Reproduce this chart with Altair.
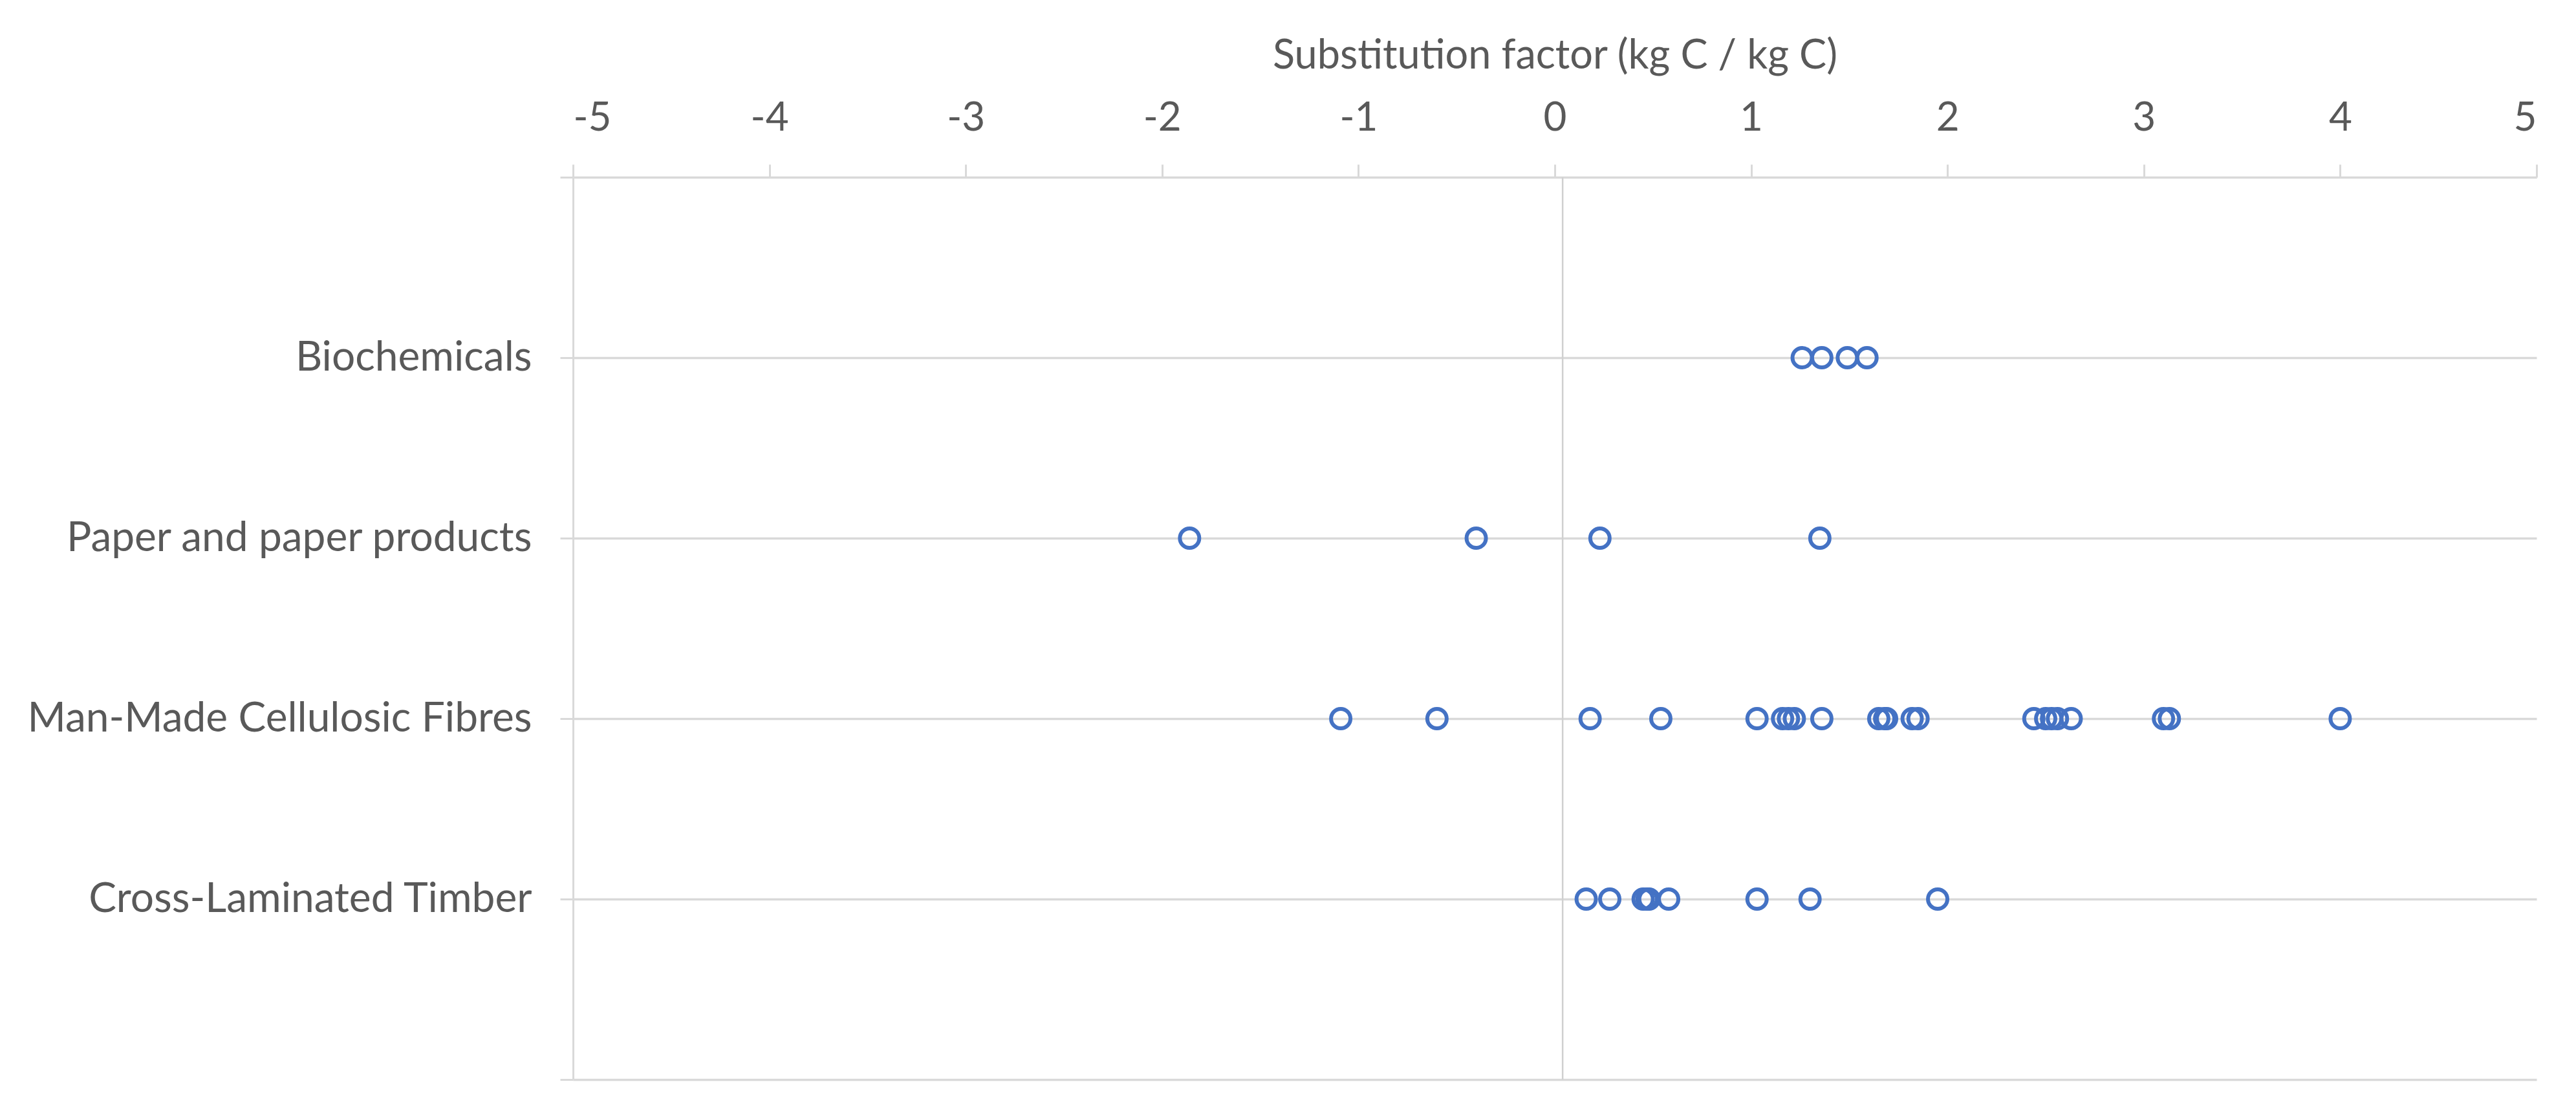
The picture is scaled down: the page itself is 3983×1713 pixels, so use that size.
import altair as alt
import pandas as pd

categories = ["Biochemicals", "Paper and paper products",
              "Man-Made Cellulosic Fibres", "Cross-Laminated Timber"]
category_pos = [4, 3, 2, 1]

biochemicals = [1.26, 1.36, 1.49, 1.59]
paper = [-1.86, -0.40, 0.23, 1.35]
mmcf = [-1.09, -0.60, 0.18, 0.54, 1.03, 1.16, 1.19, 1.22, 1.36, 1.65, 1.68,
        1.69, 1.82, 1.85, 2.44, 2.50, 2.53, 2.56, 2.63, 3.10, 3.13, 4.00]
clt = [0.16, 0.28, 0.45, 0.47, 0.48, 0.58, 1.03, 1.30, 1.95]

x_ticks = [-5, -4, -3, -2, -1, 0, 1, 2, 3, 4, 5]
y_ticks = [0, 1, 2, 3, 4, 5]
zero_line_x = [0.04]
zero_line_y = [0, 5]

rows = []
for cat, pos, vals in zip(categories, category_pos, [biochemicals, paper, mmcf, clt]):
    for v in vals:
        rows.append({"category": cat, "pos": pos, "value": v})
df = pd.DataFrame(rows)

zero_df = pd.DataFrame({"value": zero_line_x, "pos": [zero_line_y[0]], "pos2": [zero_line_y[1]]})

label_expr = " : ".join(f"datum.value == {p} ? '{c}'" for c, p in zip(categories, category_pos)) + " : ''"

FONT = "Lato"
GRAY = "#D9D9D9"
TXT = "#595959"

x = alt.X("value:Q",
          scale=alt.Scale(domain=[-5, 5], nice=False, zero=False),
          axis=alt.Axis(orient="top", values=x_ticks, labelExpr="datum.value + ''",
                        grid=False,
                        title="Substitution factor (kg C / kg C)",
                        titleFont=FONT, titleFontSize=63, titleFontWeight="normal",
                        titleColor=TXT, titlePadding=33,
                        labelFont=FONT, labelFontSize=62, labelColor=TXT,
                        labelPadding=40, tickSize=20, tickColor=GRAY, tickWidth=3,
                        domainColor=GRAY, domainWidth=3))
y = alt.Y("pos:Q",
          scale=alt.Scale(domain=[0, 5], nice=False, zero=False),
          axis=alt.Axis(values=y_ticks, labelExpr=label_expr, title=None,
                        grid=True, gridColor=GRAY, gridWidth=3.5, labelLimit=0,
                        labelFont=FONT, labelFontSize=64, labelColor=TXT,
                        labelPadding=44, tickSize=20, tickColor=GRAY, tickWidth=3,
                        domainColor=GRAY, domainWidth=3))

zero = alt.Chart(zero_df).mark_rule(color="#D0D0D0", strokeWidth=2.5).encode(
    x=x, y=y, y2="pos2:Q")

points = alt.Chart(df).mark_point(shape="circle", filled=False, size=900,
                                  strokeWidth=6, color="#4472C4", opacity=1).encode(
    x=x, y=y)

chart = alt.layer(zero, points).properties(
    width=3036, height=1395,
    autosize=alt.AutoSizeParams(type="none"),
    padding={"left": 878, "top": 266, "right": 40, "bottom": 20},
).configure_view(stroke=None)

chart.save("out.html", embed_options={"renderer": "svg", "actions": False})
